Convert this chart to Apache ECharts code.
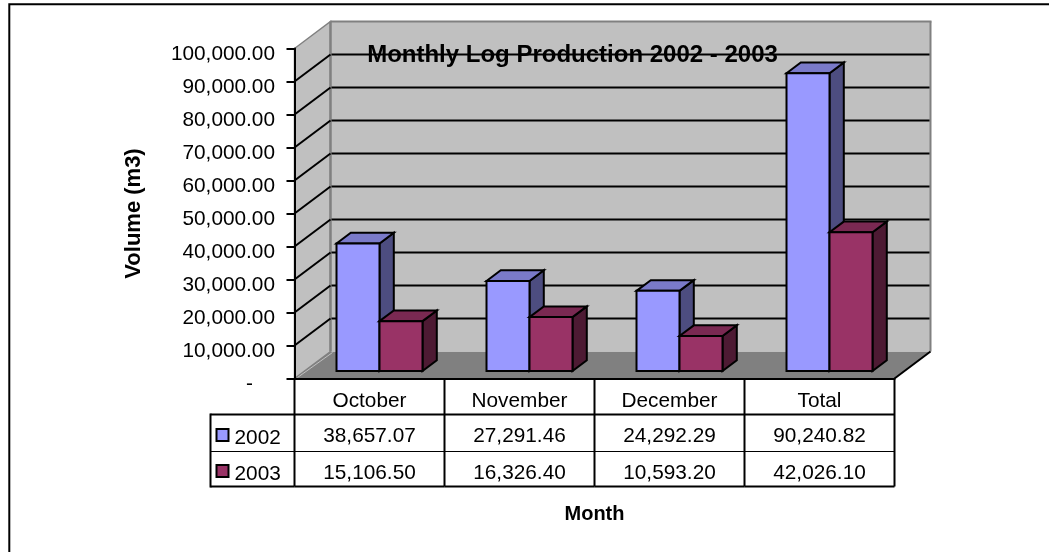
<!DOCTYPE html>
<html>
<head>
<meta charset="utf-8">
<script src="https://cdn.jsdelivr.net/npm/echarts@6/dist/echarts.min.js"></script>
<style>
  html, body { margin: 0; padding: 0; background: #fff; }
  #main { width: 1049px; height: 552px; }
</style>
</head>
<body>
<div id="main"></div>
<script>
const categories = ['October', 'November', 'December', 'Total'];
const years = ['2002', '2003'];
const values2002 = [38657.07, 27291.46, 24292.29, 90240.82];
const values2003 = [15106.50, 16326.40, 10593.20, 42026.10];
const yTicks = [0, 10000, 20000, 30000, 40000, 50000, 60000, 70000, 80000, 90000, 100000];

const FONT = '"Liberation Sans", Arial, sans-serif';
const TEXT = '#000';
const LABEL_SIZE = 20.8;

// fake 3d: how far the back wall sits from the front plane
const DEPTH_X = 36;
const DEPTH_Y = 27;
// bars stand part way into the floor
const BAR_OFF_X = 10;
const BAR_OFF_Y = 7.5;
const BAR_W = 43;
const BAR_DX = 14.3;
const BAR_DY = 10.7;

const colors2002 = { front: '#9999ff', top: '#7a7ac9', side: '#4d4d80' };
const colors2003 = { front: '#993366', top: '#7a2952', side: '#4d1a33' };

// data table rows, measured down from the x axis
const ROW_HEADER = 36;
const ROW_2002 = 73;
const ROW_2003 = 108;
const LEGEND_W = 84;

const fmt = (v) => v.toLocaleString('en-US', { minimumFractionDigits: 2, maximumFractionDigits: 2 });

const poly = (points, fill, stroke, lineWidth) => ({
  type: 'polygon',
  shape: { points: points },
  style: { fill: fill, stroke: stroke, lineWidth: lineWidth, lineJoin: 'miter' }
});
const line = (x1, y1, x2, y2, stroke, lineWidth) => ({
  type: 'line',
  shape: { x1: x1, y1: y1, x2: x2, y2: y2 },
  style: { stroke: stroke, lineWidth: lineWidth }
});
const label = (text, x, y, align) => ({
  type: 'text',
  style: { text: text, x: x, y: y, align: align, verticalAlign: 'middle', fill: TEXT, font: LABEL_SIZE + 'px ' + FONT }
});

// walls and floor, one datum is enough, corners come from the axes
const renderWalls = (params, api) => {
  const band = api.size([1, 0])[0];
  const l = api.coord([0, 0])[0] - band / 2;
  const r = api.coord([categories.length - 1, 0])[0] + band / 2;
  const y0 = api.coord([0, 0])[1];
  const yT = api.coord([0, 100000])[1];
  const dx = DEPTH_X, dy = DEPTH_Y;
  return {
    type: 'group',
    children: [
      poly([[l, y0], [l + dx, y0 - dy], [r + dx, y0 - dy], [r, y0]], '#808080', '#808080', 0),
      poly([[l, y0], [l, yT], [l + dx, yT - dy], [l + dx, y0 - dy]], '#c0c0c0', '#808080', 1.5),
      poly([[l + dx, y0 - dy], [l + dx, yT - dy], [r + dx, yT - dy], [r + dx, y0 - dy]], '#c0c0c0', 'transparent', 0),
      line(l + 3, y0 - 1, l + dx + 2, y0 - dy + 1, '#c0c0c0', 1),
      line(l + dx, yT - dy, l + dx, y0 - dy, '#808080', 2.5),
      line(l + dx, yT - dy, r + dx + 1, yT - dy, '#808080', 2),
      line(r + dx, yT - dy, r + dx, y0 - dy, '#808080', 2),
      line(r, y0, r + dx, y0 - dy, '#000', 2)
    ]
  };
};

const renderGrid = (params, api) => {
  const band = api.size([1, 0])[0];
  const v = api.value(0);
  const l = api.coord([0, v])[0] - band / 2;
  const r = api.coord([categories.length - 1, v])[0] + band / 2;
  const y = api.coord([0, v])[1];
  if (v === 0 || v === 100000) return null;
  return {
    type: 'group',
    children: [
      line(l, y, l + DEPTH_X, y - DEPTH_Y, '#000', 2),
      line(l + DEPTH_X + 1, y - DEPTH_Y, r + DEPTH_X - 1, y - DEPTH_Y, '#000', 2)
    ]
  };
};

const makeBarRender = (slot, c) => (params, api) => {
  const cat = api.value(0);
  const val = api.value(1);
  const cx = api.coord([cat, 0])[0] + BAR_OFF_X;
  const y0 = api.coord([cat, 0])[1] - BAR_OFF_Y;
  const yV = api.coord([cat, val])[1] - BAR_OFF_Y;
  const x1 = cx + slot * BAR_W;
  const x2 = x1 + BAR_W;
  return {
    type: 'group',
    children: [
      poly([[x2, y0], [x2, yV], [x2 + BAR_DX, yV - BAR_DY], [x2 + BAR_DX, y0 - BAR_DY]], c.side, '#000', 2),
      poly([[x1, yV], [x1 + BAR_DX, yV - BAR_DY], [x2 + BAR_DX, yV - BAR_DY], [x2, yV]], c.top, '#000', 2),
      poly([[x1, y0], [x1, yV], [x2, yV], [x2, y0]], c.front, '#000', 2)
    ]
  };
};

// data table under the x axis, one column per category
const renderTable = (params, api) => {
  const i = api.value(0);
  const band = api.size([1, 0])[0];
  const cx = api.coord([i, 0])[0];
  const y0 = api.coord([i, 0])[1];
  const l = cx - band / 2;
  const r = cx + band / 2;
  const yH = y0 + ROW_HEADER, y1 = y0 + ROW_2002, y2 = y0 + ROW_2003;
  const kids = [
    line(r, y0, r, y2, '#000', 2),
    line(l, yH, r, yH, '#000', 2),
    line(l, y1, r, y1, '#000', 1),
    line(l, y2, r, y2, '#000', 2),
    label(fmt(api.value(1)), cx, (yH + y1) / 2 + 3.5, 'center'),
    label(fmt(api.value(2)), cx, (y1 + y2) / 2 + 4, 'center')
  ];
  if (i === 0) {
    const lx = l - LEGEND_W;
    kids.push(
      line(l, y0, l, y2, '#000', 2),
      line(lx, yH, l, yH, '#000', 2),
      line(lx, y1, l, y1, '#000', 1),
      line(lx, y2, l, y2, '#000', 2),
      line(lx, yH - 1, lx, y2 + 1, '#000', 2),
      { type: 'rect', shape: { x: lx + 6, y: yH + 14.5, width: 12, height: 12 },
        style: { fill: colors2002.front, stroke: '#000', lineWidth: 2 } },
      { type: 'rect', shape: { x: lx + 6, y: y1 + 13.5, width: 12, height: 12 },
        style: { fill: colors2003.front, stroke: '#000', lineWidth: 2 } },
      label(years[0], lx + 24, (yH + y1) / 2 + 5, 'left'),
      label(years[1], lx + 24, (y1 + y2) / 2 + 5.5, 'left')
    );
  }
  return { type: 'group', children: kids };
};

const chart = echarts.init(document.getElementById('main'), null, { renderer: 'canvas' });

chart.setOption({
  animation: false,
  backgroundColor: '#fff',
  textStyle: { fontFamily: FONT },
  title: {
    text: 'Monthly Log Production 2002 - 2003',
    left: 567.5,
    top: 50,
    textAlign: 'center',
    textVerticalAlign: 'middle',
    z: 20,
    textStyle: { fontFamily: FONT, fontSize: 24, fontWeight: 'bold', color: TEXT }
  },
  grid: { left: 294.5, right: 154.5, top: 48.5, bottom: 173.5 },
  xAxis: {
    type: 'category',
    data: categories,
    z: 10,
    name: 'Month',
    nameLocation: 'middle',
    nameGap: 126,
    nameTextStyle: { fontFamily: FONT, fontSize: 20, fontWeight: 'bold', color: TEXT },
    axisLine: { lineStyle: { color: '#000', width: 2 } },
    axisTick: { show: false },
    axisLabel: { margin: 12, fontFamily: FONT, fontSize: LABEL_SIZE, color: TEXT }
  },
  yAxis: {
    type: 'value',
    min: 0,
    max: 100000,
    interval: 10000,
    z: 10,
    name: 'Volume (m3)',
    nameLocation: 'middle',
    nameRotate: 90,
    nameGap: 150,
    nameTextStyle: { fontFamily: FONT, fontSize: 22, fontWeight: 'bold', color: TEXT },
    splitLine: { show: false },
    axisLine: { show: true, lineStyle: { color: '#000', width: 2 } },
    axisTick: { show: true, length: 8, lineStyle: { color: '#000', width: 2 } },
    axisLabel: {
      margin: 19.5,
      fontFamily: FONT,
      fontSize: LABEL_SIZE,
      color: TEXT,
      padding: [11, 0, 0, 0],
      formatter: (v) => (v === 0 ? '{dash|-}' : fmt(v)),
      rich: { dash: { fontFamily: FONT, fontSize: LABEL_SIZE, color: TEXT, padding: [0, 22, 0, 0] } }
    }
  },
  graphic: [{
    type: 'rect',
    z: -1,
    silent: true,
    shape: { x: 9.3, y: 4.2, width: 1200, height: 800 },
    style: { fill: 'transparent', stroke: '#000', lineWidth: 2 }
  }],
  series: [
    { type: 'custom', name: 'walls', z: 1, silent: true, renderItem: renderWalls, data: [[0]] },
    { type: 'custom', name: 'grid', z: 2, silent: true, renderItem: renderGrid, encode: { y: 0 }, data: yTicks.map((v) => [v]) },
    { type: 'custom', name: years[0], z: 3, renderItem: makeBarRender(-1, colors2002), encode: { x: 0, y: 1 },
      data: values2002.map((v, i) => [i, v]) },
    { type: 'custom', name: years[1], z: 4, renderItem: makeBarRender(0, colors2003), encode: { x: 0, y: 1 },
      data: values2003.map((v, i) => [i, v]) },
    { type: 'custom', name: 'table', z: 5, silent: true, renderItem: renderTable,
      data: categories.map((c, i) => [i, values2002[i], values2003[i]]) }
  ]
});
</script>
</body>
</html>
